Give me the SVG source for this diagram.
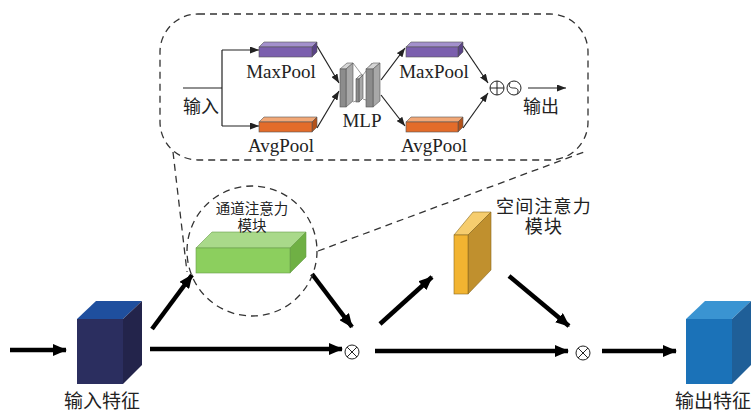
<svg xmlns="http://www.w3.org/2000/svg" width="751" height="414" viewBox="0 0 751 414">
<style>
.zh{font-family:"Liberation Serif","Noto Sans CJK SC",serif;fill:#222}
.en{font-family:"Liberation Serif",serif;fill:#222;font-size:19px}
.thick{stroke:#000;stroke-width:4.5;fill:none;marker-end:url(#big)}
.thin{stroke:#222;stroke-width:1.2;fill:none;marker-end:url(#small)}
.dash{stroke:#333;stroke-width:1.3;fill:none;stroke-dasharray:7 5}
.ln{stroke:#222;stroke-width:1.2;fill:none}
.edge{stroke:#555;stroke-width:0.6}
</style>
<defs>
<marker id="big" markerUnits="userSpaceOnUse" markerWidth="14" markerHeight="12" refX="13" refY="6" orient="auto"><path d="M0,0 L14,6 L0,12 z" fill="#000"/></marker>
<marker id="small" markerUnits="userSpaceOnUse" markerWidth="9" markerHeight="7" refX="9" refY="3.5" orient="auto"><path d="M0,0 L9,3.5 L0,7 z" fill="#222"/></marker>
</defs>
<rect width="751" height="414" fill="#fff"/>

<!-- zoom frame -->
<g id="detail-frame">
<rect x="160" y="14" width="428" height="146" rx="38" ry="38" class="dash"/>
<line x1="173" y1="152" x2="187" y2="272" class="dash"/>
<line x1="318" y1="251" x2="584" y2="152" class="dash"/>
</g>

<g id="connectors">
<!-- inner -->
<polyline points="183,88 222,88" class="ln"/>
<polyline points="222,50 222,126" class="ln"/>
<polyline points="222,50 259,50" class="thin"/>
<polyline points="222,126 259,126" class="thin"/>
<line x1="317" y1="46" x2="339" y2="83" class="thin"/>
<line x1="317" y1="128" x2="339" y2="91" class="thin"/>
<line x1="381" y1="80" x2="405" y2="48" class="thin"/>
<line x1="381" y1="95" x2="405" y2="126" class="thin"/>
<line x1="463" y1="46" x2="488" y2="83" class="thin"/>
<line x1="463" y1="128" x2="488" y2="93" class="thin"/>
<line x1="528" y1="88" x2="566" y2="88" class="thin"/>
<!-- main -->
<line x1="10" y1="350" x2="66" y2="350" class="thick"/>
<line x1="150" y1="349" x2="342" y2="349" class="thick"/>
<line x1="152" y1="329" x2="192" y2="275" class="thick"/>
<line x1="312" y1="274" x2="352" y2="327" class="thick"/>
<line x1="375" y1="351" x2="568" y2="351" class="thick"/>
<line x1="380" y1="324" x2="432" y2="277" class="thick"/>
<line x1="509" y1="276" x2="569" y2="326" class="thick"/>
<line x1="602" y1="351" x2="676" y2="351" class="thick"/>
</g>

<!-- inner nodes -->
<g id="input-label"><text x="183" y="113" class="zh" font-size="18">输入</text></g>
<g id="maxpool1">
<polygon points="259,47 264,42 317,42 312,47" fill="#a390cc" class="edge"/>
<polygon points="312,47 317,42 317,52 312,57" fill="#5a4386" class="edge"/>
<rect x="259" y="47" width="53" height="10" fill="#7b5fae" class="edge"/>
<text x="281" y="78" class="en" text-anchor="middle">MaxPool</text>
</g>
<g id="avgpool1">
<polygon points="259,122 264,117 317,117 312,122" fill="#f2a877" class="edge"/>
<polygon points="312,122 317,117 317,127 312,132" fill="#b4521a" class="edge"/>
<rect x="259" y="122" width="53" height="10" fill="#e36c2a" class="edge"/>
<text x="281" y="152" class="en" text-anchor="middle">AvgPool</text>
</g>
<g id="mlp">
<line x1="353" y1="63" x2="362" y2="75" class="edge"/>
<line x1="353" y1="102" x2="362" y2="99" class="edge"/>
<line x1="363" y1="75" x2="372" y2="63" class="edge"/>
<line x1="363" y1="99" x2="372" y2="102" class="edge"/>
<polygon points="340,69 346,69 353,63 347,63" fill="#d4d4d4" class="edge"/>
<polygon points="346,69 353,63 353,101 346,107" fill="#a8a8a8" class="edge"/>
<rect x="340" y="69" width="6" height="38" fill="#8c8c8c" class="edge"/>
<polygon points="356,79 359,79 363,75 360,75" fill="#d4d4d4" class="edge"/>
<polygon points="359,79 363,75 363,98 359,102" fill="#a8a8a8" class="edge"/>
<rect x="356" y="79" width="3" height="23" fill="#8c8c8c" class="edge"/>
<polygon points="366,69 373,69 380,63 373,63" fill="#d4d4d4" class="edge"/>
<polygon points="373,69 380,63 380,101 373,107" fill="#a8a8a8" class="edge"/>
<rect x="366" y="69" width="7" height="38" fill="#8c8c8c" class="edge"/>
<text x="362" y="127" class="en" text-anchor="middle">MLP</text>
</g>
<g id="maxpool2">
<polygon points="406,47 411,42 463,42 458,47" fill="#a390cc" class="edge"/>
<polygon points="458,47 463,42 463,52 458,57" fill="#5a4386" class="edge"/>
<rect x="406" y="47" width="52" height="10" fill="#7b5fae" class="edge"/>
<text x="434" y="78" class="en" text-anchor="middle">MaxPool</text>
</g>
<g id="avgpool2">
<polygon points="406,122 411,117 463,117 458,122" fill="#f2a877" class="edge"/>
<polygon points="458,122 463,117 463,127 458,132" fill="#b4521a" class="edge"/>
<rect x="406" y="122" width="52" height="10" fill="#e36c2a" class="edge"/>
<text x="434" y="152" class="en" text-anchor="middle">AvgPool</text>
</g>
<g id="add-sigmoid">
<circle cx="497" cy="88" r="7" fill="none" stroke="#222" stroke-width="1"/>
<line x1="490" y1="88" x2="504" y2="88" stroke="#222" stroke-width="1"/>
<line x1="497" y1="81" x2="497" y2="95" stroke="#222" stroke-width="1"/>
<circle cx="514" cy="88" r="7" fill="none" stroke="#222" stroke-width="1"/>
<path d="M510,83 C507,88 513,88 514,88 C516,88 520,89 517,94" fill="none" stroke="#222" stroke-width="1"/>
</g>
<g id="output-label"><text x="523" y="113" class="zh" font-size="18">输出</text></g>

<!-- main nodes -->
<g id="input-feature">
<polygon points="77,319 96,301 142,301 123,319" fill="#1f4f9e"/>
<polygon points="123,319 142,301 142,365 123,384" fill="#23244b"/>
<rect x="77" y="319" width="46" height="65" fill="#2b2e5f"/>
<text x="102" y="408" class="zh" font-size="19" text-anchor="middle">输入特征</text>
</g>
<g id="channel-attention">
<circle cx="252" cy="251" r="65" class="dash"/>
<polygon points="196,248 212,232 306,232 290,248" fill="#a9d98a" stroke="#6a9f4a" stroke-width="0.6"/>
<polygon points="290,248 306,232 306,257 290,273" fill="#6fb044" stroke="#6a9f4a" stroke-width="0.6"/>
<rect x="196" y="248" width="94" height="25" fill="#8ccf5e" stroke="#6a9f4a" stroke-width="0.6"/>
<text x="252" y="214" class="zh" font-size="14.5" text-anchor="middle">通道注意力</text>
<text x="252" y="231" class="zh" font-size="14.5" text-anchor="middle">模块</text>
</g>
<g id="mul1">
<circle cx="352" cy="352" r="7" fill="#fff" stroke="#222" stroke-width="1"/>
<line x1="347" y1="347" x2="357" y2="357" stroke="#222" stroke-width="1"/>
<line x1="357" y1="347" x2="347" y2="357" stroke="#222" stroke-width="1"/>
</g>
<g id="spatial-attention">
<polygon points="454,235 473,212 491,212 468,235" fill="#f6cd6e" stroke="#8a6a20" stroke-width="0.6"/>
<polygon points="468,235 491,212 491,270 468,294" fill="#c0902e" stroke="#8a6a20" stroke-width="0.6"/>
<rect x="454" y="235" width="14" height="59" fill="#f2b431" stroke="#8a6a20" stroke-width="0.6"/>
<text x="544" y="213" class="zh" font-size="18" letter-spacing="1.2" text-anchor="middle">空间注意力</text>
<text x="544" y="233" class="zh" font-size="18" letter-spacing="1.2" text-anchor="middle">模块</text>
</g>
<g id="mul2">
<circle cx="583" cy="353" r="7" fill="#fff" stroke="#222" stroke-width="1"/>
<line x1="578" y1="348" x2="588" y2="358" stroke="#222" stroke-width="1"/>
<line x1="588" y1="348" x2="578" y2="358" stroke="#222" stroke-width="1"/>
</g>
<g id="output-feature">
<polygon points="686,319 705,301 751,301 732,319" fill="#3a94d2"/>
<polygon points="732,319 751,301 751,365 732,384" fill="#1f5f98"/>
<rect x="686" y="319" width="46" height="65" fill="#1b72b8"/>
<text x="713" y="408" class="zh" font-size="19" text-anchor="middle">输出特征</text>
</g>
</svg>
